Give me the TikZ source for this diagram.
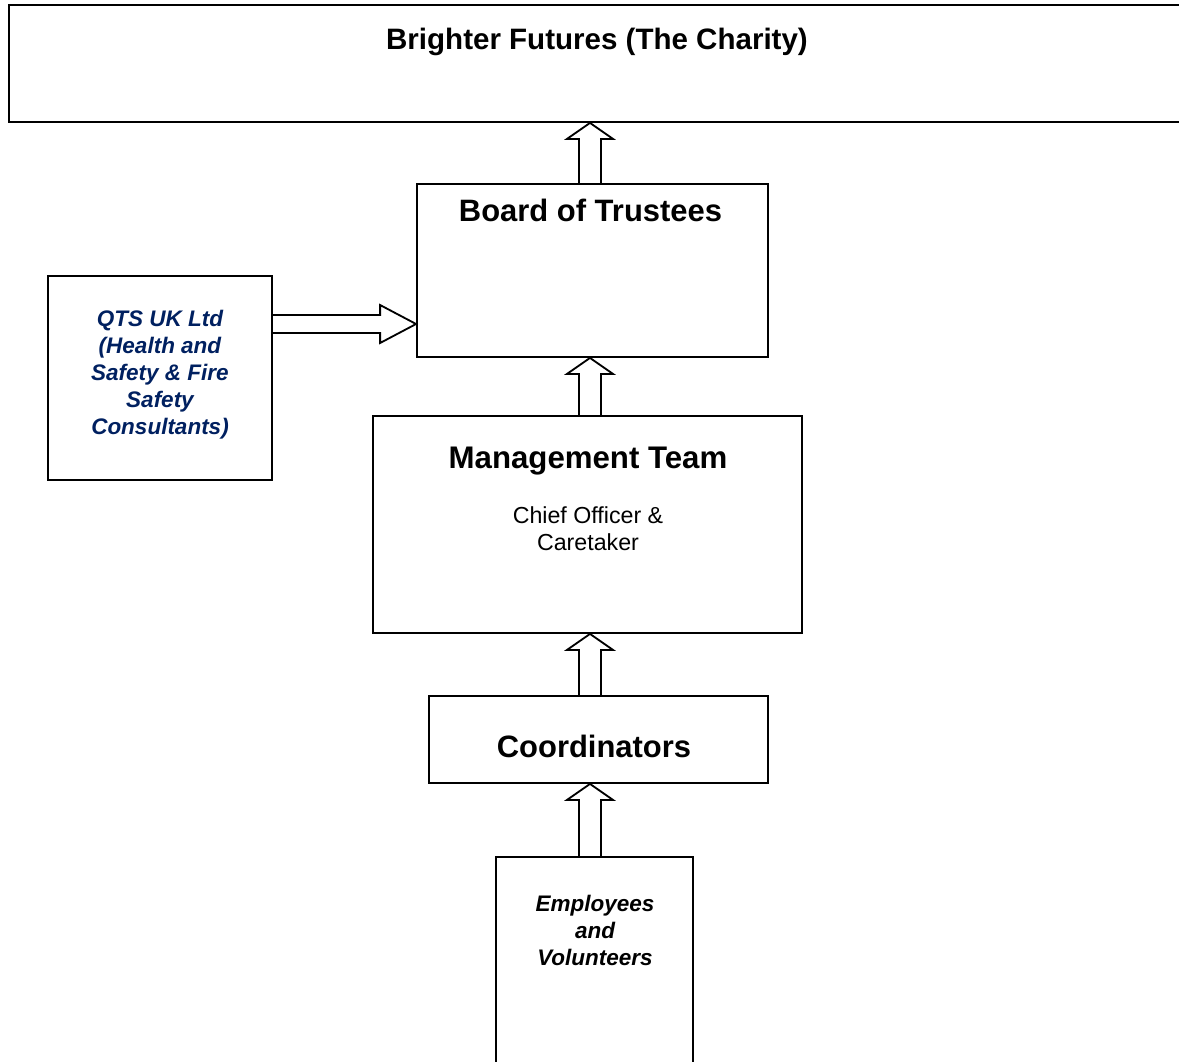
\documentclass[tikz,border=0pt]{standalone}
\usepackage{fontspec}
\setmainfont{Liberation Sans}
\usetikzlibrary{calc,positioning}
\definecolor{qtsblue}{RGB}{0,32,96}
\def\px{0.025cm}
\tikzset{
    every picture/.style={x=\px,y=\px,line width=1.3pt},
    box/.style 2 args={draw,minimum width=#1*\px,minimum height=#2*\px,inner sep=0pt},
    title/.style={font=\bfseries\fontsize{22}{26}\selectfont,anchor=base},
    plain/.style={font=\fontsize{16.5}{19.1}\selectfont,align=center,anchor=base},
    note/.style={font=\bfseries\itshape\fontsize{16}{19.1}\selectfont,align=center,anchor=base},
    blockarrow/.style={draw,line join=miter}
}
\newcommand\blockup[2]{%
    \draw[blockarrow] ($(#1)+(-11,0)$) -- ($(#2)+(-11,-16)$) -- ($(#2)+(-23,-16)$) -- (#2)
        -- ($(#2)+(23,-16)$) -- ($(#2)+(11,-16)$) -- ($(#1)+(11,0)$);}
\newcommand\blockright[2]{%
    \draw[blockarrow] ($(#1)+(0,9)$) -- ($(#2)+(-36,9)$) -- ($(#2)+(-36,19)$) -- (#2)
        -- ($(#2)+(-36,-19)$) -- ($(#2)+(-36,-9)$) -- ($(#1)+(0,-9)$);}

\begin{document}
\begin{tikzpicture}
    \useasboundingbox (0,0) rectangle (1179,-1061);
    \node[box={1180}{117}] (charity) at (599,-63.5) {};
    \node[box={351}{173}]  (board)   at (592.5,-270.5) {};
    \node[box={224}{204}]  (qts)     at (160,-378) {};
    \node[box={429}{217}]  (mgmt)    at (587.5,-524.5) {};
    \node[box={339}{87}]   (coord)   at (598.5,-739.5) {};
    \node[box={197}{223}]  (staff)   at (594.5,-968.5) {};
    % texts (multi-line ones sit on their last baseline)
    \node[title,font=\bfseries\fontsize{21}{26}\selectfont] at (597,-49) {Brighter Futures (The Charity)};
    \node[title] at (590.5,-221) {Board of Trustees};
    \node[title,font=\bfseries\fontsize{22.2}{26}\selectfont] at (588,-468) {Management Team};
    \node[plain] at (588,-550)   {Chief Officer \&\\Caretaker};
    \node[title] at (594,-757)   {Coordinators};
    \node[note,text=qtsblue] at (160,-434) {QTS UK Ltd\\(Health and\\Safety \& Fire\\Safety\\Consultants)};
    \node[note]  at (595,-965)   {Employees\\and\\Volunteers};
    % arrows
    \coordinate (arrx) at (590,0);
    \coordinate (harr) at (0,-324);
    \blockup{arrx |- board.north}{arrx |- charity.south}
    \blockup{arrx |- mgmt.north}{arrx |- board.south}
    \blockup{arrx |- coord.north}{arrx |- mgmt.south}
    \blockup{arrx |- staff.north}{arrx |- coord.south}
    \blockright{qts.east |- harr}{board.west |- harr}
\end{tikzpicture}
\end{document}
